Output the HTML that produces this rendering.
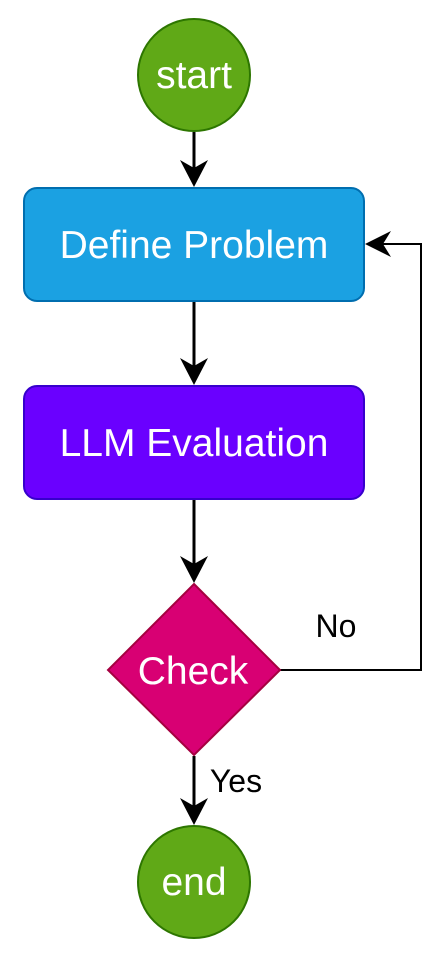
<!DOCTYPE html>
<html><head><style>
html,body{margin:0;padding:0;background:#fff;}
svg{display:block;}
text{font-family:"Liberation Sans",Arial,sans-serif;}
</style></head><body>
<svg width="444" height="958" viewBox="0 0 444 958">
<g stroke="#000" stroke-width="3" fill="none">
<line x1="194" y1="132" x2="194" y2="168"/>
<path d="M180,160 L194,187 L208,160 L194,168 Z" fill="#000" stroke="none"/>
<line x1="194" y1="302" x2="194" y2="366"/>
<path d="M180,358 L194,385 L208,358 L194,366 Z" fill="#000" stroke="none"/>
<line x1="194" y1="499" x2="194" y2="564"/>
<path d="M180,556 L194,583 L208,556 L194,564 Z" fill="#000" stroke="none"/>
<line x1="194" y1="756" x2="194" y2="806"/>
<path d="M180,798 L194,825 L208,798 L194,806 Z" fill="#000" stroke="none"/>
</g>
<polyline points="280,670 421,670 421,244 380,244" stroke="#000" stroke-width="2" fill="none"/>
<path d="M391,231 L365,244 L391,257 L383,244 Z" fill="#000"/>
<circle cx="194" cy="75" r="56" fill="#60a917" stroke="#2d7600" stroke-width="2"/>
<text x="194" y="88" font-size="39" fill="#fff" text-anchor="middle">start</text>
<rect x="24" y="188" width="340" height="113" rx="13" fill="#1ba1e2" stroke="#006eaf" stroke-width="2"/>
<text x="194" y="258" font-size="39" fill="#fff" text-anchor="middle">Define Problem</text>
<rect x="24" y="386" width="340" height="113" rx="13" fill="#6a00ff" stroke="#3700cc" stroke-width="2"/>
<text x="194" y="456" font-size="39" fill="#fff" text-anchor="middle">LLM Evaluation</text>
<polygon points="194,584 280,670 194,755 108,670" fill="#d80073" stroke="#a50040" stroke-width="2"/>
<text x="193" y="684" font-size="39" fill="#fff" text-anchor="middle">Check</text>
<circle cx="194" cy="882" r="56" fill="#60a917" stroke="#2d7600" stroke-width="2"/>
<text x="194" y="895" font-size="39" fill="#fff" text-anchor="middle">end</text>
<text x="336" y="637" font-size="32" fill="#000" text-anchor="middle">No</text>
<text x="236" y="792" font-size="32" fill="#000" text-anchor="middle">Yes</text>
</svg>
</body></html>
